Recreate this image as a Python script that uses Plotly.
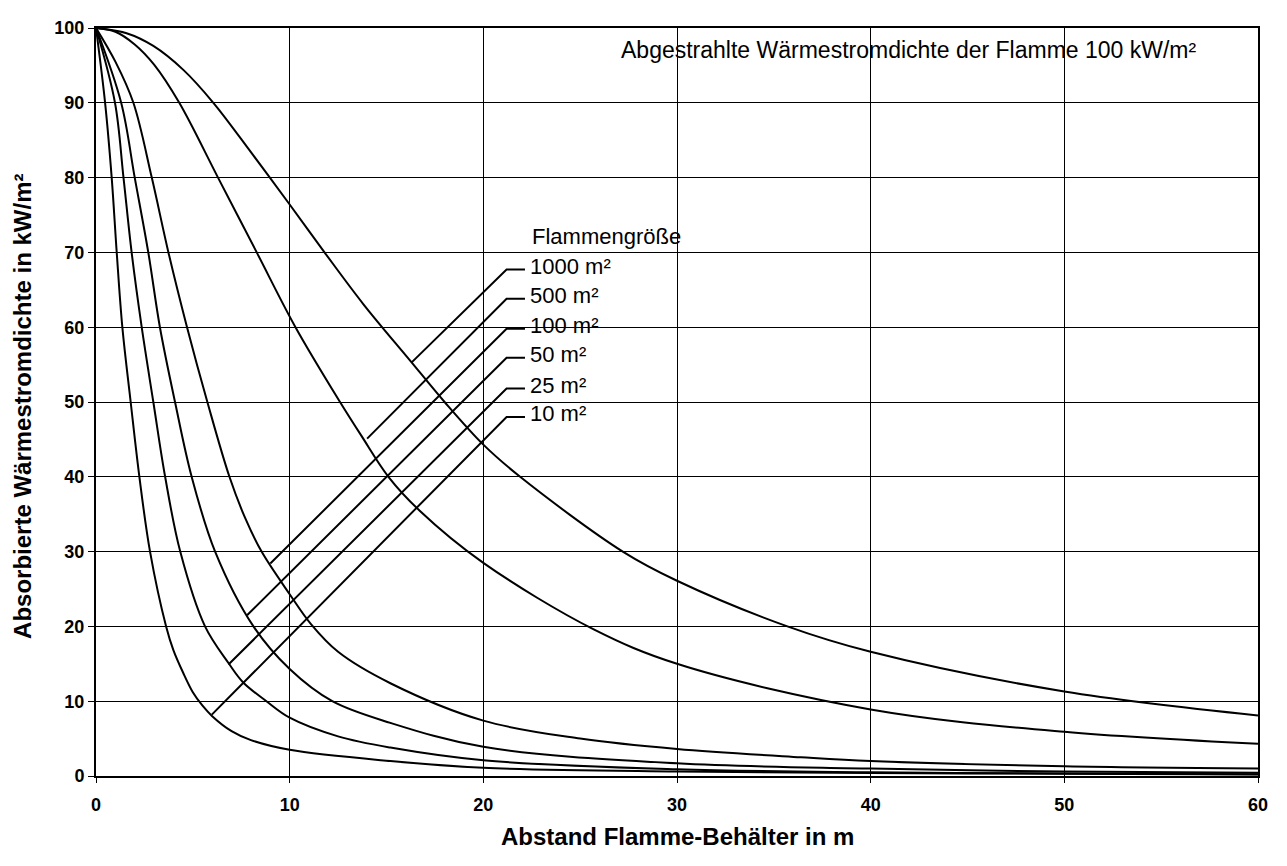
import plotly.graph_objects as go

# ---- data ----
x_ticks = [0, 10, 20, 30, 40, 50, 60]
y_ticks = [0, 10, 20, 30, 40, 50, 60, 70, 80, 90, 100]

size_labels = ["1000 m²", "500 m²", "100 m²", "50 m²", "25 m²", "10 m²"]

x_1000 = [0, 1.58, 2.96, 4.51, 6.06, 8.0, 10, 11.8, 13.8, 16.2, 18.0, 20, 21.9, 27.2, 30, 35.7, 40, 50, 60]
y_1000 = [100, 99.3, 97.6, 94.4, 90, 83.4, 76.4, 70, 63.1, 55.6, 50, 44.3, 40, 30, 26.1, 20, 16.6, 11.3, 8.1]

x_500 = [0, 1.0, 2.0, 3.0, 4.3, 6.3, 8.3, 10.3, 12.6, 13.7, 15.1, 16.7, 20, 25.7, 30, 40, 50, 60]
y_500 = [100, 99.5, 97.8, 95.1, 90, 80, 70, 60, 50, 45.5, 40, 35.5, 28.5, 19.6, 15.0, 8.9, 5.9, 4.3]

x_100 = [0, 1.0, 1.93, 2.88, 3.74, 4.7, 5.75, 6.89, 7.7, 8.55, 10, 11.1, 12.5, 15.2, 20, 25, 30, 36.4, 40, 50, 60]
y_100 = [100, 95.5, 90, 80, 70, 60, 50, 40, 34.5, 30, 24.3, 20.3, 16.6, 12.4, 7.4, 5.0, 3.6, 2.5, 2.0, 1.3, 1.0]

x_50 = [0, 1.3, 2.0, 2.7, 3.3, 4.08, 4.94, 6.15, 8.13, 10, 12.2, 15.2, 20, 30, 40, 50, 60]
y_50 = [100, 90, 80, 70, 60, 50, 40, 30, 20, 14.3, 10, 7.1, 3.9, 1.7, 1.0, 0.6, 0.45]

x_25 = [0, 0.98, 1.42, 1.84, 2.36, 2.96, 3.57, 4.35, 5.63, 6.84, 7.6, 8.8, 10, 12.5, 15.2, 20, 30, 40, 50, 60]
y_25 = [100, 90, 80, 70, 60, 50, 40, 30, 20, 15.1, 12.5, 10, 7.8, 5.3, 3.8, 2.1, 0.9, 0.5, 0.35, 0.25]

x_10 = [0, 0.47, 0.81, 1.07, 1.36, 1.79, 2.24, 2.79, 3.62, 4.0, 4.5, 5.0, 5.5, 6.0, 7.0, 8.0, 10, 15.2, 20, 30, 40, 50, 60]
y_10 = [100, 90, 80, 70, 60, 50, 40, 30, 20, 16.8, 13.8, 11.2, 9.4, 8.0, 6.0, 4.8, 3.5, 2.0, 1.1, 0.6, 0.4, 0.3, 0.2]

# leader lines: point on curve -> bend -> end of horizontal stub
leader_curve_x = [16.3, 14.0, 9.0, 7.8, 6.84, 5.98]
leader_curve_y = [55.3, 45.1, 28.4, 21.5, 14.9, 8.2]
leader_bend_x = [21.2, 21.2, 21.2, 21.2, 21.2, 21.2]
leader_bend_y = [67.7, 63.8, 59.8, 55.9, 51.8, 48.0]
leader_end_x = [22.15, 22.15, 22.15, 22.15, 22.15, 22.15]

curves = [(x_1000, y_1000), (x_500, y_500), (x_100, y_100),
          (x_50, y_50), (x_25, y_25), (x_10, y_10)]

FONT = "Liberation Sans, Arial, sans-serif"

fig = go.Figure()

for (xs, ys), name in zip(curves, size_labels):
    fig.add_trace(go.Scatter(x=xs, y=ys, mode="lines", name=name,
                             line=dict(color="black", width=2, shape="spline", smoothing=1.0),
                             showlegend=False, hoverinfo="skip"))

for i in range(len(size_labels)):
    fig.add_trace(go.Scatter(
        x=[leader_curve_x[i], leader_bend_x[i], leader_end_x[i]],
        y=[leader_curve_y[i], leader_bend_y[i], leader_bend_y[i]],
        mode="lines", line=dict(color="black", width=2),
        showlegend=False, hoverinfo="skip"))

annotations = []
for i, lab in enumerate(size_labels):
    annotations.append(dict(x=22.3, y=leader_bend_y[i], xref="x", yref="y", text=lab,
                            showarrow=False, xanchor="left", yanchor="middle", yshift=3,
                            font=dict(family=FONT, size=22, color="black")))
annotations.append(dict(x=22.4, y=72.1, xref="x", yref="y", text="Flammengröße",
                        showarrow=False, xanchor="left", yanchor="middle",
                        font=dict(family=FONT, size=22, color="black")))
annotations.append(dict(x=42.0, y=97.0, xref="x", yref="y",
                        text="Abgestrahlte Wärmestromdichte der Flamme 100 kW/m²",
                        showarrow=False, xanchor="center", yanchor="middle",
                        font=dict(family=FONT, size=23, color="black")))
annotations.append(dict(x=0.5, y=-0.081, xref="paper", yref="paper",
                        text="<b>Abstand Flamme-Behälter in m</b>",
                        showarrow=False, xanchor="center", yanchor="middle",
                        font=dict(family=FONT, size=24, color="black")))
annotations.append(dict(x=-0.0633, y=0.494, xref="paper", yref="paper",
                        text="<b>Absorbierte Wärmestromdichte in kW/m²</b>", textangle=-90,
                        showarrow=False, xanchor="center", yanchor="middle",
                        font=dict(family=FONT, size=24, color="black")))

# page body has an 8px margin, so the figure is sized to fit the window
fig.update_layout(
    width=1279, height=858,
    margin=dict(l=88, r=29, t=10, b=90),
    paper_bgcolor="white", plot_bgcolor="white",
    font=dict(family=FONT, color="black"),
    annotations=annotations,
    xaxis=dict(range=[0, 60], tickvals=x_ticks, ticktext=[str(v) for v in x_ticks],
               showgrid=True, gridcolor="black", gridwidth=1,
               showline=True, linecolor="black", linewidth=2, mirror=True,
               ticks="outside", ticklen=5, tickcolor="black", tickwidth=1,
               ticklabelstandoff=6,
               tickfont=dict(family=FONT, size=18, color="black", weight="bold"),
               zeroline=False),
    yaxis=dict(range=[0, 100], tickvals=y_ticks, ticktext=[str(v) for v in y_ticks],
               showgrid=True, gridcolor="black", gridwidth=1,
               showline=True, linecolor="black", linewidth=2, mirror=True,
               ticks="outside", ticklen=6, tickcolor="black", tickwidth=1,
               tickfont=dict(family=FONT, size=18, color="black", weight="bold"),
               zeroline=False),
)

fig.write_html("out.html")
